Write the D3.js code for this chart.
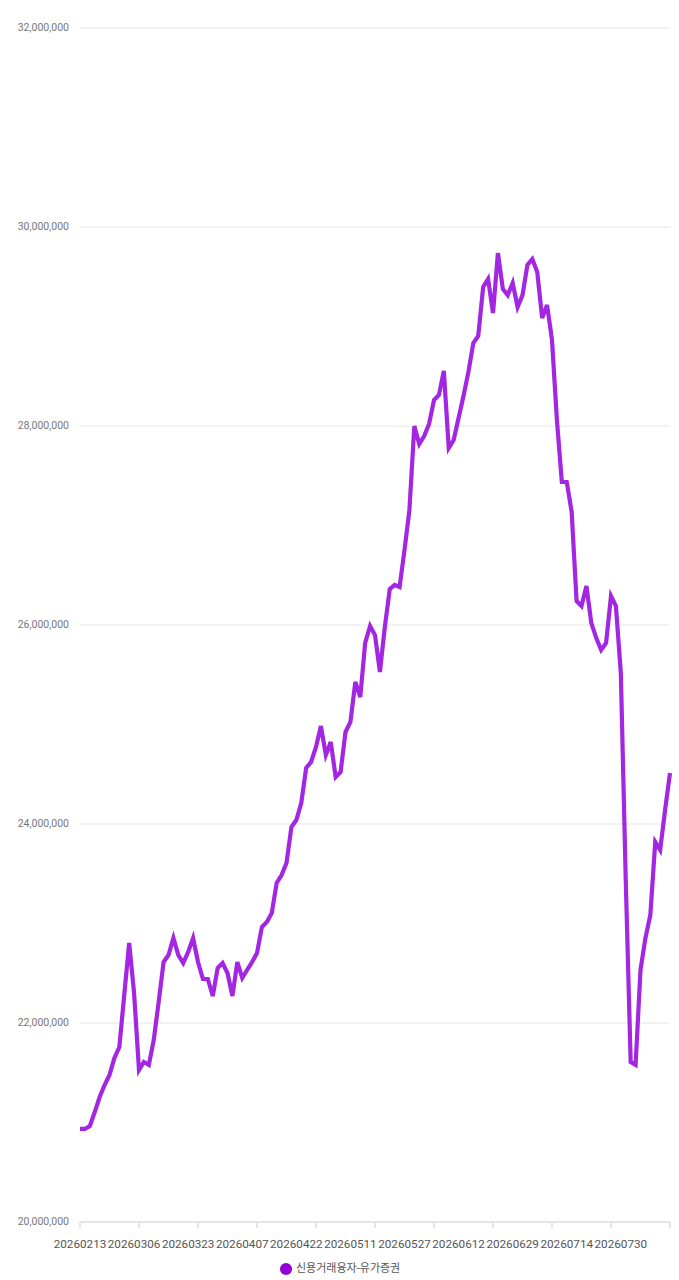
<!DOCTYPE html>
<html>
<head>
<meta charset="utf-8">
<script src="https://cdn.jsdelivr.net/npm/d3@7"></script>
<style>
  html, body { margin: 0; padding: 0; background: #fff; }
  #chart { width: 679px; height: 1280px; }
  text { font-family: Roboto, "Noto Sans CJK KR", sans-serif; }
</style>
</head>
<body>
<div id="chart"></div>
<script>
// trading days (category axis)
const dates = [
  "20260213","20260219","20260220","20260223","20260224","20260225","20260226","20260227","20260303","20260304",
  "20260305","20260306","20260309","20260310","20260311","20260312","20260313","20260316","20260317","20260318",
  "20260319","20260320","20260323","20260324","20260325","20260326","20260327","20260330","20260331","20260401",
  "20260402","20260403","20260406","20260407","20260408","20260409","20260410","20260413","20260414","20260415",
  "20260416","20260417","20260420","20260421","20260422","20260423","20260424","20260427","20260428","20260429",
  "20260430","20260504","20260506","20260507","20260508","20260511","20260512","20260513","20260514","20260515",
  "20260518","20260519","20260520","20260521","20260522","20260526","20260527","20260528","20260529","20260601",
  "20260602","20260604","20260605","20260608","20260609","20260610","20260611","20260612","20260615","20260616",
  "20260617","20260618","20260619","20260622","20260623","20260624","20260625","20260626","20260629","20260630",
  "20260701","20260702","20260703","20260706","20260707","20260708","20260709","20260710","20260713","20260714",
  "20260715","20260716","20260720","20260721","20260722","20260723","20260724","20260727","20260728","20260729",
  "20260730","20260731","20260803","20260804","20260805","20260806","20260807","20260810","20260811","20260812",
  "20260813"
];

// 신용거래융자-유가증권
const values = [
  20935000,20935000,20965000,21105000,21256000,21377000,21477000,21648000,21759000,22281000,
  22804000,22301000,21528000,21608000,21578000,21829000,22211000,22613000,22683000,22854000,
  22683000,22603000,22714000,22854000,22613000,22442000,22442000,22271000,22553000,22603000,
  22502000,22271000,22613000,22452000,22533000,22613000,22703000,22965000,23015000,23105000,
  23407000,23487000,23608000,23970000,24040000,24211000,24563000,24623000,24774000,24985000,
  24693000,24824000,24472000,24523000,24925000,25025000,25427000,25276000,25819000,25990000,
  25899000,25528000,25980000,26362000,26402000,26382000,26754000,27156000,28000000,27819000,
  27899000,28020000,28261000,28311000,28553000,27779000,27859000,28080000,28301000,28543000,
  28834000,28904000,29397000,29477000,29135000,29738000,29377000,29316000,29437000,29196000,
  29316000,29618000,29678000,29548000,29085000,29216000,28864000,28060000,27437000,27437000,
  27136000,26241000,26191000,26392000,26020000,25869000,25749000,25819000,26291000,26191000,
  25517000,23437000,21608000,21578000,22533000,22854000,23085000,23819000,23739000,24141000,
  24512000
];

const seriesName = "신용거래융자-유가증권";
const yTicks = [20000000, 22000000, 24000000, 26000000, 28000000, 30000000, 32000000];
const labelEvery = 11;   // x labels on every 11th day
const tickEvery = 12;    // x tick marks on every 12th day

const margin = { top: 28, right: 9, bottom: 58, left: 80 };
const width = 679 - margin.left - margin.right;
const height = 1280 - margin.top - margin.bottom;

const svg = d3.select("#chart")
  .append("svg")
  .attr("width", 679)
  .attr("height", 1280)
  .append("g")
  .attr("transform", `translate(${margin.left},${margin.top})`);

const x = d3.scalePoint()
  .domain(dates)
  .range([0, width]);

const y = d3.scaleLinear()
  .domain([20000000, 32000000])
  .range([height, 0]);

// horizontal grid
svg.selectAll(".y-grid")
  .data(yTicks.slice(1))
  .enter()
  .append("line")
  .attr("class", "y-grid")
  .attr("x1", 0)
  .attr("x2", width)
  .attr("y1", d => y(d))
  .attr("y2", d => y(d))
  .attr("stroke", "#e6e6e6")
  .attr("stroke-width", 1);

// y labels
svg.selectAll(".y-label")
  .data(yTicks)
  .enter()
  .append("text")
  .attr("class", "y-label")
  .attr("x", -11)
  .attr("y", d => y(d))
  .attr("text-anchor", "end")
  .attr("dominant-baseline", "middle")
  .attr("font-size", "10.5px")
  .attr("fill", "#777")
  .text(d => d3.format(",")(d));

// x axis line + ticks
svg.append("path")
  .attr("d", `M0,${height}H${width}`)
  .attr("stroke", "#dcdcdc")
  .attr("stroke-width", 1.5);

svg.selectAll(".x-tick")
  .data(dates.filter((d, i) => i % tickEvery === 0))
  .enter()
  .append("line")
  .attr("class", "x-tick")
  .attr("x1", d => x(d))
  .attr("x2", d => x(d))
  .attr("y1", height)
  .attr("y2", height + 6)
  .attr("stroke", "#dcdcdc")
  .attr("stroke-width", 1.5);

svg.selectAll(".x-label")
  .data(dates.filter((d, i) => i % labelEvery === 0 && i < dates.length - 1))
  .enter()
  .append("text")
  .attr("class", "x-label")
  .attr("x", d => x(d))
  .attr("y", height + 26)
  .attr("text-anchor", "middle")
  .attr("font-size", "11.7px")
  .attr("fill", "#555")
  .text(d => d);

// line
svg.append("path")
  .datum(values)
  .attr("fill", "none")
  .attr("stroke", "#a226e2")
  .attr("stroke-width", 4.2)
  .attr("stroke-linejoin", "miter")
  .attr("d", d3.line()
    .x((d, i) => x(dates[i]))
    .y(d => y(d))
  );

// legend
const legend = svg.append("g")
  .attr("transform", `translate(${width / 2 - 89},${height + 47})`);

legend.append("circle")
  .attr("cx", 0)
  .attr("cy", 0)
  .attr("r", 6)
  .attr("fill", "#9300d3");

legend.append("text")
  .attr("x", 10)
  .attr("y", 0)
  .attr("dominant-baseline", "middle")
  .attr("font-size", "11px")
  .attr("fill", "#555")
  .text(seriesName);
</script>
</body>
</html>
